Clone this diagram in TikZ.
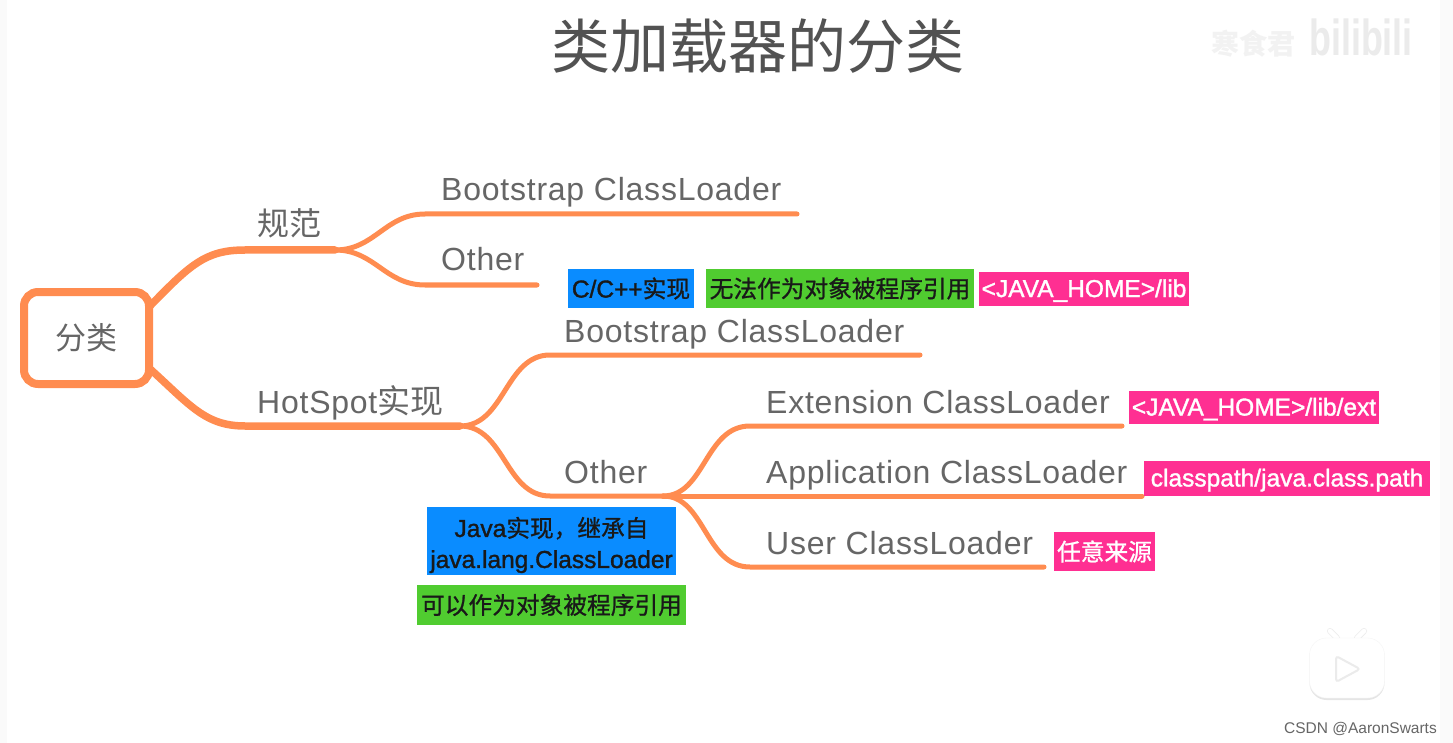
\documentclass[tikz,border=0pt]{standalone}
\usepackage{fontspec}
\setmainfont{Liberation Sans}
\newfontfamily\cjk{Noto Sans CJK SC}
\newfontfamily\tagfont[FakeBold=1.4]{Liberation Sans}
\newfontfamily\tagcjk[FakeBold=1]{Noto Sans CJK SC}
\newfontfamily\mapfont[LetterSpace=2.4]{Liberation Sans}
\usetikzlibrary{positioning,calc,shadows}
\definecolor{mapline}{HTML}{FF8C50}
\definecolor{maptext}{HTML}{666666}
\definecolor{tagblue}{HTML}{0A8CFF}
\definecolor{taggreen}{HTML}{50CC30}
\definecolor{tagpink}{HTML}{FF2F92}
\tikzset{
    % Rami della mappa
    mainbranch/.style={draw=mapline, line width=7.5pt, line cap=round},
    subbranch/.style={draw=mapline, line width=5pt, line cap=round},
    % Testi sopra i rami
    topic/.style={anchor=base west, inner sep=0pt, text=maptext,
                  font=\mapfont\fontsize{32}{32}\selectfont},
    % Etichette colorate
    tag/.style={anchor=center, align=center, inner sep=0pt, text=black!90,
                font=\tagfont\fontsize{24.5}{31}\selectfont},
    bluetag/.style={tag, fill=tagblue},
    greentag/.style={tag, fill=taggreen},
    pinktag/.style={tag, fill=tagpink, text=white}
}
\begin{document}
\begin{tikzpicture}[x=1pt,y=-1pt]
      \useasboundingbox (0,0) rectangle (1453,743);
      \fill[black!2] (0,0) rectangle (1453,743);
      \fill[white] (7,0) rectangle (1440,743);
      % Titolo e marchi
      \node[inner sep=0pt, text=black!68, font=\cjk\fontsize{59}{59}\selectfont] (title) at (758,46) {类加载器的分类};
      \node[inner sep=0pt, text=black!5, font=\cjk\bfseries\fontsize{28}{28}\selectfont] (author) at (1253,44) {寒食君};
      \node[inner sep=0pt, text=black!8, font=\bfseries\fontsize{46}{46}\selectfont, xscale=.78, yscale=1.1] (site) at (1361,37) {bilibili};
      % Radice
      \node[draw=mapline, line width=8pt, rounded corners=14pt, outer sep=0pt,
            minimum width=125pt, minimum height=92pt, inner sep=0pt,
            text=maptext, font=\cjk\fontsize{31}{31}\selectfont] (root) at (86.5,338) {分类};
      % Punti di giunzione
      \coordinate (specfork) at (335,250);
      \coordinate (hotfork) at (460,426);
      \coordinate (otherfork) at (663,496);
      \coordinate (bootend) at (797,214);
      \coordinate (otherend) at (537,285);
      \coordinate (hotbootend) at (920,355);
      \coordinate (extend) at (1122,426);
      \coordinate (append) at (1142,496);
      \coordinate (userend) at (1044,567);
      % Rami
      \draw[mainbranch] ($(root.east)+(0,-31)$) .. controls (190,265) and (205,250) .. (245,250) -- (specfork);
      \draw[mainbranch] ($(root.east)+(0,30)$) .. controls (190,405) and (205,426) .. (245,426) -- (hotfork);
      \draw[subbranch] (specfork) .. controls (375,250) and (385,214) .. (425,214) -- (bootend);
      \draw[subbranch] (specfork) .. controls (375,250) and (385,285) .. (425,285) -- (otherend);
      \draw[subbranch] (hotfork) .. controls (505,426) and (505,355) .. (550,355) -- (hotbootend);
      \draw[subbranch] (hotfork) .. controls (505,426) and (505,496) .. (550,496) -- (otherfork);
      \draw[subbranch] (otherfork) .. controls (705,496) and (705,426) .. (750,426) -- (extend);
      \draw[subbranch] (otherfork) -- (append);
      \draw[subbranch] (otherfork) .. controls (705,496) and (705,567) .. (750,567) -- (userend);
      % Testi
      \node[topic] (spec) at (257,236) {\cjk 规范};
      \node[topic] (hot) at (257,413) {HotSpot{\cjk\fontsize{33}{33}\selectfont 实现}};
      \node[topic] (boot) at (441,201) {Bootstrap ClassLoader};
      \node[topic] (other) at (441,271) {Other};
      \node[topic] (hotboot) at (564,342) {Bootstrap ClassLoader};
      \node[topic] (hotother) at (564,483) {Other};
      \node[topic] (ext) at (766,413) {Extension ClassLoader};
      \node[topic] (app) at (766,483) {Application ClassLoader};
      \node[topic] (user) at (766,554) {User ClassLoader};
      % Etichette
      \node[bluetag, minimum width=126pt, minimum height=39pt] (cimpl) at (631,288.5) {C/C++{\tagcjk\fontsize{23.7}{31}\selectfont 实现}};
      \node[greentag, minimum width=268pt, minimum height=39pt] (noref) at (840,288.5) {\tagcjk\fontsize{23.7}{31}\selectfont 无法作为对象被程序引用};
      \node[pinktag, minimum width=210pt, minimum height=34pt] (libdir) at (1084,289) {\rule{0pt}{21pt}<JAVA\_HOME>/lib};
      \node[pinktag, minimum width=250pt, minimum height=33pt] (extdir) at (1254,407.5) {\rule{0pt}{21pt}<JAVA\_HOME>/lib/ext};
      \node[pinktag, minimum width=286pt, minimum height=35pt] (cpdir) at (1287,478.5) {\rule{0pt}{21pt}classpath/java.class.path};
      \node[pinktag, minimum width=101pt, minimum height=39pt] (anysrc) at (1104.5,551.5) {\tagcjk\fontsize{23.7}{31}\selectfont 任意来源};
      \node[bluetag, minimum width=249pt, minimum height=68pt] (javaimpl) at (551.5,541) {\rule{0pt}{28pt}Java{\tagcjk\fontsize{23.7}{31}\selectfont 实现，继承自}\\java.lang.ClassLoader};
      \node[greentag, minimum width=269pt, minimum height=40pt] (canref) at (551.5,605) {\tagcjk\fontsize{23.7}{31}\selectfont 可以作为对象被程序引用};
      % Icona in basso
      \draw[black!7, line width=6pt, line cap=round] (1337,638) -- (1330,631);
      \draw[black!7, line width=6pt, line cap=round] (1357,638) -- (1364,631);
      \draw[white, line width=4.5pt, line cap=round] (1337,638) -- (1330,631);
      \draw[white, line width=4.5pt, line cap=round] (1357,638) -- (1364,631);
      \node[fill=white, draw=black!4, rounded corners=17pt, minimum width=75pt, minimum height=60pt, inner sep=0pt,
            drop shadow={shadow xshift=0pt, shadow yshift=-2pt, opacity=.2}] (tvbody) at (1347,668) {};
      \draw[black!8, line width=2pt, fill=white, rounded corners=3pt] (1336,656) -- (1336,682) -- (1360,669) -- cycle;
      \node[anchor=base east, inner sep=0pt, text=black!60, font=\fontsize{15.5}{15.5}\selectfont] (credit) at (1437,733) {CSDN @AaronSwarts};
\end{tikzpicture}
\end{document}
